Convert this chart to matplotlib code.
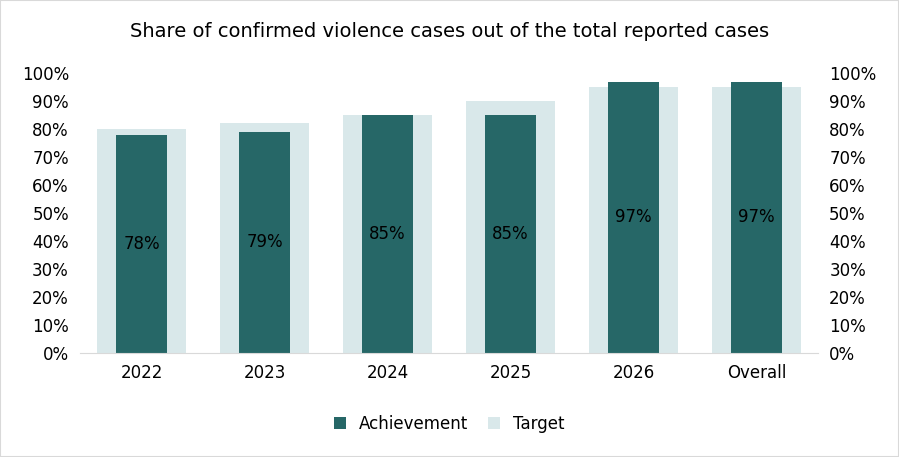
import matplotlib.pyplot as plt
import numpy as np
from matplotlib.ticker import PercentFormatter

categories = ['2022', '2023', '2024', '2025', '2026', 'Overall']
achievement = [78, 79, 85, 85, 97, 97]
target = [80, 82, 85, 90, 95, 95]

fig = plt.figure(figsize=(8.99, 4.57), dpi=100)
ax = fig.add_axes([0.089, 0.2276, 0.821, 0.6124])
x = np.arange(len(categories))
ax.bar(x, target, width=0.72, color='#d9e8ea', label='Target', zorder=1)
ax.bar(x, achievement, width=0.41, color='#266767', label='Achievement', zorder=2)
for xi, v in zip(x, achievement):
    ax.text(xi, v / 2, f'{v}%', ha='center', va='center', fontsize=12, color='black', zorder=3)

ax.set_ylim(0, 100)
ax.set_xlim(-0.5, len(categories) - 0.5)
ax.set_yticks(range(0, 101, 10))
ax.yaxis.set_major_formatter(PercentFormatter(decimals=0))
ax.set_xticks(x)
ax.set_xticklabels(categories)
for s in ['top', 'left', 'right']:
    ax.spines[s].set_visible(False)
ax.spines['bottom'].set_color('#d9d9d9')
ax.tick_params(length=0, labelsize=12, pad=8)

ax2 = ax.twinx()
ax2.set_ylim(0, 100)
ax2.set_yticks(range(0, 101, 10))
ax2.yaxis.set_major_formatter(PercentFormatter(decimals=0))
for s in ax2.spines.values():
    s.set_visible(False)
ax2.tick_params(length=0, labelsize=12, pad=8)

fig.text(0.5, 0.93, 'Share of confirmed violence cases out of the total reported cases',
         ha='center', va='center', fontsize=14)
h, l = ax.get_legend_handles_labels()
fig.legend(h[::-1], l[::-1], loc='center', bbox_to_anchor=(0.5, 0.072), ncol=2,
           frameon=False, fontsize=12, handlelength=0.7, handleheight=0.7, columnspacing=1.2)
fig.patches.append(plt.Rectangle((0, 0), 1, 1, transform=fig.transFigure, fill=False,
                                 edgecolor='#d9d9d9', linewidth=1.5))
fig.savefig('out.png', dpi=100)
